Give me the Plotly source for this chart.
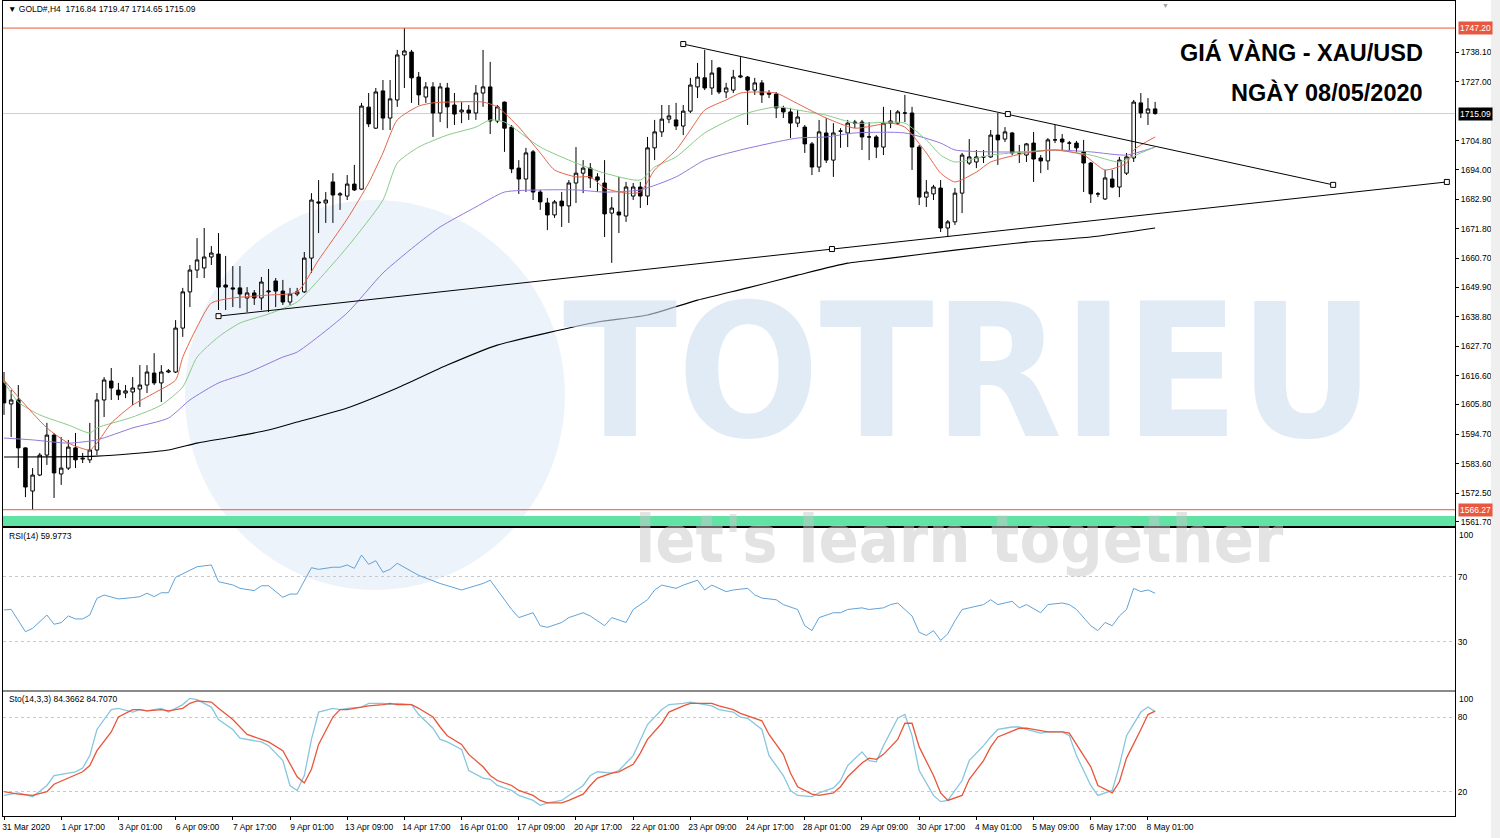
import plotly.graph_objects as go

# ---------------- data ----------------
bars = list(range(162))
opens = [1613.9,1606.0,1607.5,1589.5,1573.3,1579.3,1586.8,1594.3,1579.7,1581.9,
         1589.5,1585.3,1585.0,1588.7,1607.5,1614.6,1611.2,1610.1,1610.5,1611.6,
         1613.1,1617.6,1613.9,1618.0,1618.0,1634.5,1648.1,1656.3,1657.1,1661.2,
         1662.3,1650.7,1649.6,1649.6,1645.8,1647.7,1645.8,1648.1,1652.2,1648.4,
         1644.3,1647.3,1648.1,1660.8,1681.9,1681.5,1689.4,1684.5,1684.1,1688.6,
         1686.7,1717.5,1709.6,1723.6,1713.4,1720.2,1737.1,1738.2,1728.8,1721.3,
         1725.1,1715.3,1724.7,1718.3,1715.7,1716.4,1715.3,1722.8,1725.1,1712.3,
         1719.4,1710.0,1694.6,1690.5,1700.7,1685.6,1681.5,1677.0,1682.2,1680.4,
         1689.0,1692.7,1694.6,1691.3,1689.0,1677.7,1678.1,1676.6,1684.1,1687.5,
         1684.1,1702.2,1708.2,1713.0,1712.7,1710.4,1716.0,1725.1,1728.5,1724.7,
         1732.2,1723.2,1723.9,1728.8,1728.8,1723.9,1726.6,1722.8,1722.4,1717.2,
         1715.7,1711.5,1710.0,1703.7,1695.0,1707.8,1697.6,1708.5,1707.8,1711.9,
         1711.9,1706.3,1706.3,1702.5,1711.5,1711.5,1715.3,1715.3,1702.5,1683.7,
         1684.9,1687.1,1672.1,1674.4,1685.2,1696.5,1696.9,1698.8,1698.8,1707.0,
         1705.5,1707.8,1700.3,1699.5,1704.0,1698.4,1697.3,1705.2,1705.5,1704.0,
         1704.0,1700.7,1696.5,1684.9,1683.0,1690.5,1687.5,1692.7,1698.4,1719.1,
         1715.3,1716.84]
highs = [1618.0,1611.2,1613.1,1589.7,1581.9,1587.6,1598.9,1595.1,1593.6,1592.5,
         1595.1,1587.6,1598.9,1610.1,1616.1,1619.5,1613.9,1613.1,1616.1,1620.6,
         1620.6,1625.1,1620.6,1619.1,1637.5,1649.6,1658.2,1668.3,1672.1,1665.3,
         1670.2,1661.6,1657.8,1657.8,1649.9,1648.8,1653.7,1656.7,1653.3,1652.6,
         1649.6,1649.6,1663.1,1685.2,1690.1,1685.6,1692.7,1685.6,1692.0,1695.8,
         1719.1,1722.8,1724.7,1727.7,1727.7,1739.0,1747.2,1739.0,1730.7,1726.9,
         1726.9,1726.6,1726.6,1722.8,1719.4,1718.3,1725.8,1739.0,1734.5,1718.3,
         1719.6,1710.8,1697.6,1702.2,1701.4,1686.4,1683.4,1682.6,1685.6,1690.1,
         1702.5,1697.6,1696.5,1692.7,1697.6,1683.7,1691.3,1689.4,1689.0,1689.4,
         1706.3,1712.7,1718.3,1718.3,1719.1,1718.3,1728.5,1734.1,1739.0,1735.2,
         1732.6,1726.6,1731.5,1736.3,1729.2,1728.5,1727.7,1723.9,1723.2,1718.0,
         1717.2,1716.4,1710.8,1704.4,1712.7,1713.4,1711.5,1709.6,1712.7,1712.7,
         1712.7,1711.9,1707.0,1717.6,1716.4,1716.4,1722.1,1717.6,1703.3,1690.1,
         1688.3,1690.1,1675.1,1687.1,1700.3,1705.5,1701.4,1701.4,1708.9,1715.3,
         1710.0,1708.2,1703.3,1704.0,1708.2,1699.5,1705.9,1710.8,1707.4,1704.8,
         1704.8,1705.2,1696.9,1685.6,1693.9,1693.9,1698.8,1700.3,1720.2,1722.8,
         1720.9,1719.47]
lows = [1601.9,1593.6,1581.9,1571.0,1566.27,1578.9,1583.1,1570.7,1575.6,1581.2,
        1581.9,1583.8,1583.8,1586.8,1601.1,1607.5,1607.5,1608.2,1605.6,1604.9,
        1610.1,1613.1,1606.7,1617.6,1617.6,1631.2,1642.4,1653.3,1653.3,1658.2,
        1641.3,1641.3,1642.4,1642.0,1640.5,1643.2,1641.3,1640.5,1642.4,1643.2,
        1643.2,1646.5,1647.7,1655.2,1670.2,1674.0,1674.0,1678.9,1682.6,1686.0,
        1686.4,1710.0,1709.3,1708.9,1708.9,1717.6,1724.7,1719.1,1718.3,1719.1,
        1706.3,1711.9,1709.6,1710.8,1711.5,1712.7,1712.7,1717.6,1707.4,1711.5,
        1700.7,1692.7,1684.9,1685.6,1682.6,1678.9,1671.3,1675.9,1672.5,1674.0,
        1681.5,1685.2,1687.1,1685.6,1668.7,1659.0,1670.2,1674.4,1682.6,1679.6,
        1680.7,1697.6,1706.3,1711.5,1708.9,1707.0,1715.3,1720.9,1723.9,1722.1,
        1722.4,1720.9,1722.8,1728.4,1710.8,1722.1,1719.1,1720.9,1713.4,1713.4,
        1705.9,1710.0,1700.3,1692.0,1693.1,1696.5,1691.3,1702.2,1702.5,1709.6,
        1701.4,1697.6,1698.4,1699.5,1709.6,1710.8,1711.9,1693.9,1680.7,1680.0,
        1682.6,1670.6,1668.7,1673.2,1677.7,1695.8,1694.6,1696.5,1698.4,1695.8,
        1704.4,1699.5,1696.5,1696.9,1689.4,1692.7,1693.9,1704.0,1701.4,1701.4,
        1700.7,1685.6,1681.5,1683.7,1682.6,1687.1,1683.7,1692.0,1696.9,1713.4,
        1710.8,1714.65]
closes = [1606.4,1607.5,1589.5,1574.8,1579.3,1586.8,1594.3,1580.1,1581.9,1589.8,
          1585.0,1585.6,1588.7,1607.5,1615.0,1612.0,1609.4,1610.9,1612.0,1613.1,
          1618.0,1613.9,1618.0,1618.4,1634.5,1648.1,1656.3,1660.1,1661.2,1662.7,
          1649.9,1649.9,1649.2,1647.3,1647.7,1645.8,1651.8,1648.4,1648.4,1644.3,
          1647.3,1648.1,1660.8,1682.6,1681.5,1682.6,1684.5,1684.9,1688.6,1686.4,
          1717.9,1711.2,1723.2,1713.4,1720.6,1737.1,1738.6,1728.5,1722.1,1725.1,
          1715.3,1725.1,1717.6,1714.9,1716.4,1715.3,1722.8,1725.1,1712.3,1717.6,
          1709.6,1694.3,1690.5,1700.3,1685.6,1681.9,1677.0,1681.9,1680.4,1689.0,
          1692.7,1694.6,1690.9,1690.1,1677.4,1679.6,1677.0,1687.5,1687.5,1684.1,
          1702.2,1708.2,1713.0,1714.2,1710.4,1716.0,1725.8,1728.8,1724.7,1730.3,
          1723.2,1724.7,1728.8,1729.2,1723.9,1726.6,1722.1,1722.4,1717.2,1715.7,
          1711.5,1713.8,1703.7,1695.0,1708.2,1697.6,1707.8,1708.5,1711.5,1711.5,
          1706.3,1706.3,1702.5,1711.5,1712.3,1715.7,1715.3,1702.5,1683.7,1685.6,
          1687.5,1672.1,1674.4,1685.2,1699.5,1698.8,1698.8,1698.8,1707.0,1705.2,
          1708.2,1700.3,1700.3,1703.7,1698.0,1697.3,1705.2,1705.2,1704.4,1704.0,
          1702.2,1696.5,1684.9,1684.9,1690.9,1687.5,1697.6,1698.8,1719.4,1715.3,
          1716.8,1715.09]

# moving averages
ma_fast_bars = [0,2,6,9,12,13,15,18,21,24,25,27,29,32,37,41,44,48,51,53,55,58,60,62,67,69,72,75,77,80,82,84,87,89,91,94,96,98,101,103,105,108,110,115,119,124,126,129,131,133,136,138,143,147,151,154,157,158,161]
ma_fast_vals = [1615.0,1608.6,1597.0,1591.3,1588.7,1591.3,1598.8,1605.6,1610.1,1615.0,1623.6,1634.9,1643.9,1645.8,1646.9,1648.1,1660.1,1675.5,1689.0,1700.3,1712.7,1717.9,1719.1,1719.4,1719.4,1717.6,1710.0,1700.3,1693.9,1691.3,1691.3,1687.1,1685.2,1685.6,1693.9,1701.4,1708.9,1716.4,1720.2,1722.8,1723.2,1722.8,1720.2,1713.4,1709.6,1711.5,1710.0,1700.3,1692.7,1689.4,1693.1,1696.9,1700.3,1701.4,1699.5,1693.9,1696.5,1701.4,1706.3]
ma_mid_bars = [0,2,5,9,12,13,18,22,25,27,30,33,37,41,44,48,53,55,58,62,66,68,70,75,80,84,89,91,94,98,103,108,111,115,119,124,126,129,131,133,138,143,147,152,156,159,161]
ma_mid_vals = [1614.3,1606.7,1601.9,1598.1,1595.1,1597.0,1601.1,1605.6,1612.4,1623.6,1631.2,1636.4,1639.8,1644.3,1652.6,1664.9,1682.6,1696.5,1702.5,1707.0,1710.0,1712.7,1711.9,1702.5,1696.5,1692.7,1690.1,1695.0,1698.8,1707.8,1714.5,1717.6,1716.4,1714.5,1711.5,1711.9,1711.5,1705.2,1699.5,1696.9,1699.5,1700.7,1701.4,1699.5,1696.9,1700.3,1702.5]
ma_slow_bars = [0,4,9,13,18,23,26,30,34,39,41,48,53,58,61,66,70,75,80,84,89,94,98,103,108,111,115,119,126,131,133,138,143,147,152,157,161]
ma_slow_vals = [1593.2,1592.5,1591.3,1592.5,1597.0,1600.7,1607.5,1613.9,1617.6,1623.6,1625.5,1640.2,1655.2,1666.5,1672.5,1680.0,1685.6,1686.4,1686.4,1685.6,1686.4,1691.3,1697.6,1701.4,1704.4,1705.9,1706.3,1707.8,1707.8,1704.0,1701.4,1700.7,1700.7,1701.4,1700.7,1699.5,1702.5]
ma200_bars = [0,13,23,27,32,37,41,48,55,62,69,76,83,90,97,104,111,118,124,133,143,152,161]
ma200_vals = [1586.1,1586.4,1588.7,1591.3,1593.6,1596.2,1599.2,1604.5,1612.0,1620.6,1628.1,1632.7,1636.8,1639.4,1645.0,1649.6,1654.4,1658.9,1660.8,1663.8,1666.8,1668.7,1672.1]

# trend lines (bar index, price of the anchors)
trend_up_bars = [95, 140.4, 185.9]
trend_up_prices = [1741.2, 1714.9, 1688.3]
trend_lo_bars = [30, 115.8, 201.8]
trend_lo_prices = [1639.0, 1664.2, 1689.4]

# horizontal levels
level_high = 1747.20
level_low = 1566.27
last_price = 1715.09
zone_low, zone_high = 1556.0, 1563.9

# RSI(14)
rsi_bars = [0,1,3,4,6,7,8,9,10,11,12,13,14,16,18,19,20,21,22,23,24,26,27,29,30,32,33,35,36,37,39,40,41,43,44,46,47,48,49,50,51,52,53,54,55,
            58,61,64,67,68,69,71,72,74,75,76,78,79,81,82,83,84,85,87,88,90,91,92,94,95,97,98,99,101,102,104,105,106,108,109,111,112,113,114,116,117,118,120,121,123,124,125,127,128,129,130,131,132,133,134,135,137,138,139,141,142,143,145,146,148,149,150,152,153,154,155,156,157,158,159,160,161]
rsi_vals = [49.7,50.1,36.3,38.4,46.6,40.9,41.9,46.0,44.2,44.2,46.6,56.9,58.9,56.5,57.3,57.9,60.0,57.9,60.3,60.3,69.8,74.3,76.3,77.4,67.1,65.1,63.0,61.6,64.6,64.6,57.5,59.5,59.5,75.7,74.7,76.0,76.0,77.4,75.3,83.5,77.8,80.0,72.9,74.7,78.4,
            71,66,62,66,68,62,50,45,48,40,39,42,45,48,46,43,40,45,42,50,56,62,65,63,65,68,62,65,61,62,63,59,57,56,53,50,40,37,45,48,48,50,51,50,51,53,54,46,36,34,37,31,35,43,50,51,53,56,53,55,51,53,48,53,54,53,50,40,37,42,40,46,50,63,61,62,59.9773]

# Stochastic(14,3,3)
sto_bars = [0,2,4,6,7,9,10,11,12,13,15,16,18,19,20,22,23,25,26,27,29,30,32,33,34,36,37,39,40,41,42,43,44,46,47,48,50,51,53,54,
            55,57,58,60,61,62,64,65,67,68,69,71,72,74,75,76,78,79,81,82,83,85,86,88,89,90,92,93,95,96,97,99,100,102,103,104,106,107,109,110,
            111,113,114,116,117,118,120,121,122,123,125,126,127,128,130,131,132,134,135,137,138,139,141,142,143,145,146,148,149,150,152,153,155,156,157,159,160,161]
sto_main = [17,19,16,25,33,35,36,39,49,70,86,87,84,86,85,87,84,90,95,94,88,78,70,63,62,60,57,45,25,21,33,62,84,87,86,87,88,91,91,90,
            91,90,82,71,62,60,54,37,31,30,25,21,17,13,9,11,13,17,25,33,36,35,37,49,62,74,86,90,91,92,91,89,86,84,80,79,70,49,33,21,
            17,16,19,23,29,41,52,45,44,57,79,82,65,37,17,12,13,29,45,57,64,70,72,72,70,67,68,68,65,49,25,17,21,41,65,84,88,84.3662]
sto_signal = [20,18,17,20,26,31,34,36,41,53,68,80,86,86,85,86,85,87,91,93,92,87,78,72,66,62,60,53,43,32,27,38,58,80,86,86,88,89,90,91,
              90,90,87,80,72,65,58,50,40,33,29,25,21,17,13,11,11,13,18,25,31,35,36,42,51,62,75,84,89,91,91,91,89,86,83,81,77,66,50,35,
              24,18,17,19,24,32,43,47,46,50,62,75,75,56,33,19,13,17,30,45,56,64,69,71,71,69,68,68,67,58,40,25,19,28,47,70,82,84.7070]

label_bars = [0,8,16,24,32,40,48,56,64,72,80,88,96,104,112,120,128,136,144,152,160]
label_texts = ["31 Mar 2020","1 Apr 17:00","3 Apr 01:00","6 Apr 09:00","7 Apr 17:00","9 Apr 01:00",
               "13 Apr 09:00","14 Apr 17:00","16 Apr 01:00","17 Apr 09:00","20 Apr 17:00","22 Apr 01:00",
               "23 Apr 09:00","24 Apr 17:00","28 Apr 01:00","29 Apr 09:00","30 Apr 17:00","4 May 01:00",
               "5 May 09:00","6 May 17:00","8 May 01:00"]
price_ticks = [1738.10,1727.00,1704.80,1694.00,1682.90,1671.80,1660.70,1649.90,1638.80,
               1627.70,1616.60,1605.80,1594.70,1583.60,1572.50,1561.70]

# ---------------- figure ----------------
FONT = "Liberation Sans, Arial, sans-serif"
RED = "#E8573F"
fig = go.Figure()

fig.add_trace(go.Candlestick(
    x=bars, open=opens, high=highs, low=lows, close=closes,
    increasing=dict(line=dict(color="black", width=1), fillcolor="white"),
    decreasing=dict(line=dict(color="black", width=1), fillcolor="black"),
    whiskerwidth=0, xaxis="x", yaxis="y", showlegend=False, hoverinfo="skip"))

for bx, vy, col, w in [(ma200_bars, ma200_vals, "black", 1.1),
                       (ma_slow_bars, ma_slow_vals, "#9377DD", 1),
                       (ma_mid_bars, ma_mid_vals, "#8ACB8A", 1),
                       (ma_fast_bars, ma_fast_vals, "#E2644A", 1)]:
    fig.add_trace(go.Scatter(x=bx, y=vy, mode="lines", line=dict(color=col, width=w, shape="spline", smoothing=0.6),
                             xaxis="x", yaxis="y", showlegend=False, hoverinfo="skip"))

for tb, tp in [(trend_up_bars, trend_up_prices), (trend_lo_bars, trend_lo_prices)]:
    fig.add_trace(go.Scatter(x=tb, y=tp, mode="lines+markers",
                             line=dict(color="black", width=1),
                             marker=dict(symbol="square", size=5, color="white", line=dict(color="black", width=1)),
                             xaxis="x", yaxis="y", showlegend=False, hoverinfo="skip", cliponaxis=False))

fig.add_trace(go.Scatter(x=rsi_bars, y=rsi_vals, mode="lines", line=dict(color="#5FA3DA", width=1),
                         xaxis="x2", yaxis="y2", showlegend=False, hoverinfo="skip"))
fig.add_trace(go.Scatter(x=sto_bars, y=sto_main, mode="lines", line=dict(color="#86C6DE", width=1.3),
                         xaxis="x3", yaxis="y3", showlegend=False, hoverinfo="skip"))
fig.add_trace(go.Scatter(x=sto_bars, y=sto_signal, mode="lines", line=dict(color="#E8553A", width=1.3),
                         xaxis="x3", yaxis="y3", showlegend=False, hoverinfo="skip"))

xr = [-0.14, 202.94]
common_x = dict(range=xr, showgrid=False, zeroline=False, showline=True, mirror=True,
                linecolor="black", linewidth=1, automargin=False)
tickfont = dict(family=FONT, size=8.5, color="black")

fig.update_layout(
    width=1500, height=838,
    margin=dict(l=3, r=45, t=1, b=22, autoexpand=False),
    paper_bgcolor="white", plot_bgcolor="white",
    showlegend=False,
    xaxis=dict(**common_x, domain=[0, 1], anchor="y", showticklabels=False, ticks="",
               rangeslider=dict(visible=False)),
    xaxis2=dict(**common_x, domain=[0, 1], anchor="y2", matches="x", showticklabels=False, ticks=""),
    xaxis3=dict(**common_x, domain=[0, 1], anchor="y3", matches="x",
                tickmode="array", tickvals=label_bars, ticktext=label_texts,
                ticks="outside", ticklen=3, tickcolor="black", tickfont=tickfont,
                ticklabelshift=22),
    yaxis=dict(domain=[0.3558, 1.0], range=[1560.15, 1757.37], side="right", anchor="x",
               tickmode="array", tickvals=price_ticks, ticktext=[f"{v:.2f}" for v in price_ticks],
               ticks="outside", ticklen=3, tickcolor="black", tickfont=tickfont, automargin=False,
               showgrid=False, zeroline=False, showline=True, mirror=True, linecolor="black"),
    yaxis2=dict(domain=[0.1546, 0.3534], range=[0.46, 100.15], side="right", anchor="x2",
                tickmode="array", tickvals=[70, 30], ticks="", tickfont=tickfont, automargin=False,
                showgrid=True, gridcolor="#C8C8C8", griddash="dot", zeroline=False,
                showline=True, mirror=True, linecolor="black"),
    yaxis3=dict(domain=[0.0, 0.1521], range=[0.48, 100.08], side="right", anchor="x3",
                tickmode="array", tickvals=[80, 20], ticks="", tickfont=tickfont, automargin=False,
                showgrid=True, gridcolor="#C8C8C8", griddash="dot", zeroline=False,
                showline=True, mirror=True, linecolor="black"),
)

shapes = [
    # watermark logo circle
    dict(type="circle", xref="paper", yref="paper", x0=0.1253, x1=0.387, y0=0.2773, y1=0.7558,
         fillcolor="rgba(222,233,245,0.55)", line=dict(width=0), layer="below"),
    # green zone
    dict(type="rect", xref="paper", yref="y", x0=0, x1=1, y0=zone_low, y1=zone_high,
         fillcolor="#63E2A6", line=dict(width=0), layer="below"),
    # levels
    dict(type="line", xref="paper", yref="y", x0=0, x1=1, y0=level_high, y1=level_high,
         line=dict(color=RED, width=1)),
    dict(type="line", xref="paper", yref="y", x0=0, x1=1, y0=level_low, y1=level_low,
         line=dict(color=RED, width=1)),
    dict(type="line", xref="paper", yref="y", x0=0, x1=1, y0=last_price, y1=last_price,
         line=dict(color="#CFCFCF", width=1), layer="below"),
    # separator between RSI and Stochastic windows
    dict(type="rect", xref="paper", yref="paper", x0=0, x1=1, y0=0.1521, y1=0.1546,
         fillcolor="#8A8A8A", line=dict(width=0)),
    # right-hand grey strip
    dict(type="rect", xref="paper", yref="paper", x0=1.0248, x1=1.035, y0=-0.03, y1=1.002,
         fillcolor="#EFEFEF", line=dict(width=0)),
]
fig.update_layout(shapes=shapes)

WM_FONT = "Liberation Sans Narrow, DejaVu Sans Condensed, Roboto, sans-serif"
ann = []
# watermark texts
ann.append(dict(text="<b>TOTRIEU</b>", xref="paper", yref="paper", x=0.665, y=0.5448,
                showarrow=False, font=dict(family=WM_FONT, size=186, color="rgba(205,222,240,0.6)")))
ann.append(dict(text="<b>let's learn together</b>", xref="paper", yref="paper", x=0.659, y=0.29,
                showarrow=False, font=dict(family=WM_FONT, size=66, color="rgba(200,200,200,0.5)")))
# header
ann.append(dict(text="▼ GOLD#,H4  1716.84 1719.47 1714.65 1715.09", xref="paper", yref="paper",
                x=0.002, y=0.990, xanchor="left", yanchor="middle", showarrow=False,
                font=dict(family=FONT, size=8.5, color="black")))
ann.append(dict(text="▼", xref="paper", yref="paper", x=0.8003, y=0.994, xanchor="center", yanchor="middle",
                showarrow=False, font=dict(family=FONT, size=7, color="#A0A0A0")))
# title
ann.append(dict(text="<b>GIÁ VÀNG - XAU/USD</b>", xref="paper", yref="paper", x=0.9793, y=0.9374,
                xanchor="right", yanchor="middle", showarrow=False,
                font=dict(family=FONT, size=23.5, color="black")))
ann.append(dict(text="<b>NGÀY 08/05/2020</b>", xref="paper", yref="paper", x=0.9793, y=0.8883,
                xanchor="right", yanchor="middle", showarrow=False,
                font=dict(family=FONT, size=23.5, color="black")))
# indicator captions
ann.append(dict(text="RSI(14) 59.9773", xref="paper", yref="paper", x=0.0028, y=0.3436,
                xanchor="left", yanchor="middle", showarrow=False, font=dict(family=FONT, size=8.5, color="black")))
ann.append(dict(text="Sto(14,3,3) 84.3662 84.7070", xref="paper", yref="paper", x=0.0028, y=0.1436,
                xanchor="left", yanchor="middle", showarrow=False, font=dict(family=FONT, size=8.5, color="black")))
# edge labels of the indicator windows
for yref, val, anchor, txt in [("y2", 100, "top", "100"), ("y2", 0, "bottom", "0"),
                               ("y3", 100, "top", "100"), ("y3", 0, "bottom", "0")]:
    ann.append(dict(text=txt, xref="paper", yref=yref, x=1, y=val, xanchor="left", yanchor=anchor,
                    xshift=2, showarrow=False, font=dict(family=FONT, size=8.5, color="black")))
# price tags
for val, bg in [(level_high, RED), (last_price, "black"), (level_low, RED)]:
    ann.append(dict(text=f"{val:.2f}", xref="paper", yref="y", x=1, y=val, xanchor="left", yanchor="middle",
                    xshift=3, showarrow=False, bgcolor=bg, borderpad=1,
                    font=dict(family=FONT, size=8.5, color="white")))
fig.update_layout(annotations=ann)

fig.write_html("out.html", config={"displayModeBar": False},
               post_script="document.body.style.margin='0px';")
